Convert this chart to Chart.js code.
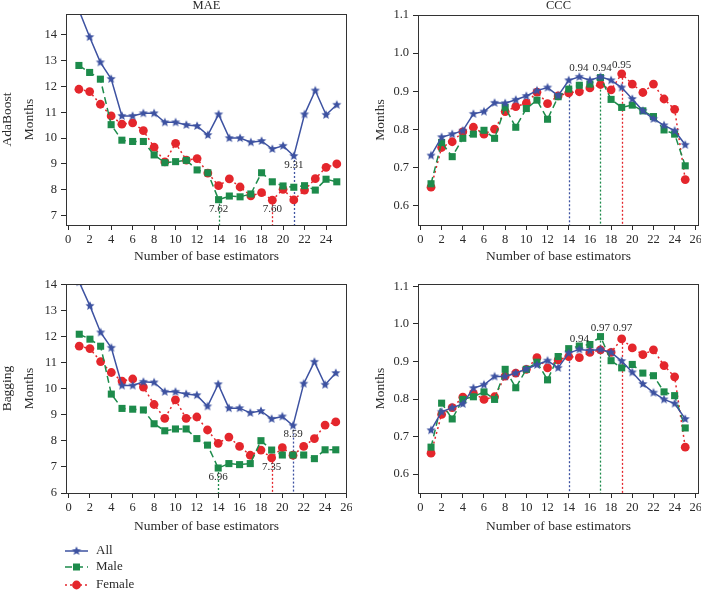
<!DOCTYPE html>
<html>
<head>
<meta charset="utf-8">
<script src="https://cdn.jsdelivr.net/npm/chart.js@4.4.1/dist/chart.umd.min.js"></script>
<style>
html, body { margin: 0; padding: 0; background: #fff; overflow: hidden; }
.panel { position: absolute; }
</style>
</head>
<body>
<div class="panel" style="left:0;top:0;width:352px;height:270px"><canvas id="adaMae"></canvas></div>
<div class="panel" style="left:352px;top:0;width:352px;height:270px"><canvas id="adaCcc"></canvas></div>
<div class="panel" style="left:0;top:270px;width:352px;height:330px"><canvas id="bagMae"></canvas></div>
<div class="panel" style="left:352px;top:270px;width:352px;height:270px"><canvas id="bagCcc"></canvas></div>
<script>
const estimators = [1, 2, 3, 4, 5, 6, 7, 8, 9, 10, 11, 12, 13, 14, 15, 16, 17, 18, 19, 20, 21, 22, 23, 24, 25];
const seriesNames = ['All', 'Male', 'Female'];

// AdaBoost
const adaMaeAll = [14.95, 13.91, 12.93, 12.29, 10.86, 10.86, 10.96, 10.96, 10.61, 10.61, 10.51, 10.47, 10.12, 10.92, 10.00, 10.00, 9.84, 9.89, 9.58, 9.70, 9.31, 10.92, 11.84, 10.90, 11.29];
const adaMaeMale = [12.81, 12.54, 12.28, 10.52, 9.92, 9.87, 9.87, 9.35, 9.05, 9.09, 9.14, 8.77, 8.66, 7.62, 7.76, 7.73, 7.84, 8.66, 8.31, 8.15, 8.10, 8.16, 7.99, 8.41, 8.31];
const adaMaeFemale = [11.89, 11.80, 11.31, 10.86, 10.54, 10.59, 10.29, 9.65, 9.08, 9.80, 9.15, 9.21, 8.65, 8.16, 8.42, 8.11, 7.77, 7.89, 7.60, 8.02, 7.61, 7.99, 8.43, 8.87, 9.00];
const adaCccAll = [0.732, 0.780, 0.788, 0.797, 0.841, 0.847, 0.870, 0.869, 0.878, 0.888, 0.902, 0.910, 0.889, 0.929, 0.938, 0.929, 0.938, 0.929, 0.910, 0.880, 0.849, 0.828, 0.811, 0.797, 0.760];
const adaCccMale = [0.658, 0.766, 0.729, 0.777, 0.788, 0.798, 0.777, 0.858, 0.806, 0.855, 0.877, 0.827, 0.886, 0.906, 0.916, 0.919, 0.936, 0.879, 0.858, 0.864, 0.849, 0.834, 0.799, 0.788, 0.705];
const adaCccFemale = [0.649, 0.753, 0.768, 0.794, 0.806, 0.788, 0.801, 0.847, 0.860, 0.869, 0.898, 0.868, 0.888, 0.896, 0.899, 0.909, 0.918, 0.904, 0.946, 0.919, 0.897, 0.919, 0.880, 0.853, 0.669];

// Bagging
const bagMaeAll = [14.10, 13.19, 12.17, 11.58, 10.13, 10.13, 10.27, 10.25, 9.89, 9.89, 9.80, 9.76, 9.33, 10.18, 9.26, 9.26, 9.08, 9.15, 8.85, 8.94, 8.59, 10.20, 11.04, 10.16, 10.61];
const bagMaeMale = [12.10, 11.91, 11.64, 9.80, 9.25, 9.22, 9.19, 8.66, 8.39, 8.46, 8.46, 8.09, 7.84, 6.96, 7.13, 7.09, 7.13, 8.01, 7.65, 7.46, 7.46, 7.46, 7.32, 7.66, 7.66];
const bagMaeFemale = [11.64, 11.55, 11.05, 10.63, 10.30, 10.38, 10.07, 9.40, 8.87, 9.58, 8.87, 8.92, 8.42, 7.91, 8.15, 7.79, 7.45, 7.65, 7.35, 7.74, 7.45, 7.79, 8.09, 8.61, 8.73];
const bagCccAll = [0.717, 0.766, 0.777, 0.787, 0.829, 0.838, 0.860, 0.860, 0.869, 0.880, 0.891, 0.902, 0.883, 0.922, 0.932, 0.929, 0.932, 0.924, 0.901, 0.871, 0.840, 0.817, 0.799, 0.788, 0.747];
const bagCccMale = [0.672, 0.789, 0.747, 0.799, 0.806, 0.819, 0.799, 0.879, 0.830, 0.879, 0.898, 0.851, 0.913, 0.934, 0.941, 0.945, 0.966, 0.902, 0.883, 0.892, 0.869, 0.862, 0.819, 0.809, 0.723];
const bagCccFemale = [0.656, 0.759, 0.777, 0.805, 0.815, 0.799, 0.806, 0.861, 0.869, 0.879, 0.910, 0.883, 0.904, 0.913, 0.910, 0.924, 0.931, 0.924, 0.960, 0.936, 0.918, 0.931, 0.889, 0.859, 0.672];

// best values marked with dotted drop lines (All, Male, Female)
const adaMaeBestX = [21, 14, 19];
const adaMaeBest = [9.31, 7.62, 7.60];
const adaCccBestX = [14, 17, 19];
const adaCccBest = [0.94, 0.94, 0.95];
const bagMaeBestX = [21, 14, 19];
const bagMaeBest = [8.59, 6.96, 7.35];
const bagCccBestX = [14, 17, 19];
const bagCccBest = [0.94, 0.97, 0.97];

const maeTicks = [6, 7, 8, 9, 10, 11, 12, 13, 14];
const cccTicks = [0.6, 0.7, 0.8, 0.9, 1.0, 1.1];

const ink = '#2a2a2a';
const colors = ['#3d52a1', '#1d8b4b', '#e4262c'];
const dashes = [[], [7, 4], [2, 3]];
const serif = "'Liberation Serif', 'Times New Roman', serif";
Chart.defaults.font.family = serif;
Chart.defaults.color = ink;

function makeStar(color, r) {
    var c = document.createElement('canvas');
    var s = Math.ceil(r * 2) + 2;
    c.width = s; c.height = s;
    var g = c.getContext('2d');
    g.fillStyle = color;
    g.beginPath();
    for (var i = 0; i < 10; i++) {
        var rad = i % 2 === 0 ? r : r * 0.45;
        var a = -Math.PI / 2 + i * Math.PI / 5;
        var px = s / 2 + rad * Math.cos(a), py = s / 2 + rad * Math.sin(a);
        if (i === 0) g.moveTo(px, py); else g.lineTo(px, py);
    }
    g.closePath();
    g.fill();
    return c;
}
const starImg = makeStar(colors[0], 4.8);
const pointStyles = [starImg, 'rect', 'circle'];
const pointRadii = [4.5, 5, 4.4];

function drawMarker(ctx, i, x, y) {
    ctx.fillStyle = colors[i];
    if (i === 0) ctx.drawImage(starImg, x - starImg.width / 2, y - starImg.height / 2);
    else if (i === 1) ctx.fillRect(x - 3.5, y - 3.5, 7, 7);
    else { ctx.beginPath(); ctx.arc(x, y, 4.4, 0, Math.PI * 2); ctx.fill(); }
}

function decor(cfg) {
    return {
        id: 'decor',
        beforeDatasetsDraw(chart) {
            var ctx = chart.ctx, a = chart.chartArea, x = chart.scales.x, y = chart.scales.y;
            ctx.save();
            ctx.lineWidth = 1.3;
            ctx.setLineDash([2, 2]);
            cfg.bestX.forEach(function (bx, i) {
                var top = y.getPixelForValue(chart.data.datasets[i].data[bx - 1].y);
                var px = Math.round(x.getPixelForValue(bx)) + 0.5;
                ctx.strokeStyle = colors[i];
                ctx.beginPath();
                ctx.moveTo(px, top);
                ctx.lineTo(px, a.bottom);
                ctx.stroke();
            });
            ctx.restore();
        },
        afterDatasetsDraw(chart) {
            var ctx = chart.ctx, x = chart.scales.x, y = chart.scales.y;
            ctx.save();
            ctx.font = '11px ' + serif;
            ctx.fillStyle = ink;
            ctx.textAlign = 'center';
            ctx.textBaseline = 'middle';
            cfg.bestX.forEach(function (bx, i) {
                var v = cfg.best[i];
                var lx = x.getPixelForValue(bx + (cfg.labelShift ? cfg.labelShift[i] : 0));
                var ly = y.getPixelForValue(v) + (cfg.below ? 9 : -7.5);
                ctx.fillText(v.toFixed(2), lx, ly);
            });
            ctx.restore();
        },
        afterDraw(chart) {
            var ctx = chart.ctx, a = chart.chartArea;
            ctx.save();
            ctx.strokeStyle = '#333';
            ctx.lineWidth = 1;
            ctx.strokeRect(Math.round(a.left) + 0.5, Math.round(a.top) + 0.5, Math.round(a.right - a.left) - 1, Math.round(a.bottom - a.top));
            ctx.fillStyle = ink;
            if (cfg.title) {
                ctx.font = '12.5px ' + serif;
                ctx.textAlign = 'center';
                ctx.textBaseline = 'middle';
                ctx.fillText(cfg.title, (a.left + a.right) / 2, 6);
            }
            if (cfg.legend) {
                ctx.font = '13px ' + serif;
                ctx.textAlign = 'left';
                ctx.textBaseline = 'middle';
                var rows = [281, 297, 315];
                seriesNames.forEach(function (name, i) {
                    var ry = rows[i];
                    ctx.strokeStyle = colors[i];
                    ctx.lineWidth = 1.5;
                    ctx.setLineDash(dashes[i]);
                    ctx.beginPath();
                    ctx.moveTo(65, ry);
                    ctx.lineTo(88, ry);
                    ctx.stroke();
                    ctx.setLineDash([]);
                    drawMarker(ctx, i, 76.5, ry);
                    ctx.fillStyle = ink;
                    ctx.fillText(name, 96, ry);
                });
            }
            ctx.restore();
        }
    };
}

function series(i, values) {
    return {
        label: seriesNames[i],
        data: estimators.map(function (e, k) { return { x: e, y: values[k] }; }),
        borderColor: colors[i],
        backgroundColor: colors[i],
        borderWidth: 1.5,
        borderDash: dashes[i],
        pointStyle: pointStyles[i],
        pointRadius: pointRadii[i],
        pointBorderWidth: 0,
        pointBackgroundColor: colors[i],
        tension: 0,
        clip: 0
    };
}

function panel(id, cfg) {
    var tickVals = cfg.ticks;
    return new Chart(document.getElementById(id), {
        type: 'line',
        data: {
            datasets: [series(0, cfg.all), series(1, cfg.male), series(2, cfg.female)]
        },
        options: {
            responsive: true,
            maintainAspectRatio: false,
            animation: false,
            layout: { padding: cfg.pad },
            plugins: { legend: { display: false }, tooltip: { enabled: false } },
            scales: {
                x: {
                    type: 'linear',
                    min: cfg.xMin,
                    max: cfg.xMax,
                    ticks: { stepSize: 2, includeBounds: false, autoSkip: false, maxRotation: 0, padding: 2, color: ink, font: { size: 12.5 } },
                    grid: { drawOnChartArea: false, tickLength: 5, color: ink },
                    border: { display: false },
                    title: { display: true, text: 'Number of base estimators', color: ink, font: { size: 13.5 }, padding: { top: 0, bottom: cfg.xTitlePad } },
                    afterFit: function (s) { s.height = 45; s.paddingLeft = 0; s.paddingRight = 0; }
                },
                y: {
                    min: cfg.yMin,
                    max: cfg.yMax,
                    afterBuildTicks: function (s) {
                        s.ticks = tickVals.filter(function (v) { return v >= s.min - 1e-9 && v <= s.max + 1e-9; }).map(function (v) { return { value: v }; });
                    },
                    ticks: {
                        padding: 4,
                        color: ink,
                        font: { size: 12.5 },
                        callback: function (v) { return cfg.decimals ? Number(v).toFixed(1) : String(v); }
                    },
                    grid: { drawOnChartArea: false, tickLength: 5, color: ink },
                    border: { display: false },
                    title: { display: true, text: cfg.yTitle, color: ink, font: { size: 13.5, lineHeight: 1.63 }, padding: { top: cfg.yTitlePad, bottom: 0 } },
                    afterFit: function (s) { s.width = 66; s.paddingTop = 0; s.paddingBottom = 0; }
                }
            }
        },
        plugins: [decor(cfg)]
    });
}

panel('adaMae', {
    all: adaMaeAll, male: adaMaeMale, female: adaMaeFemale,
    bestX: adaMaeBestX, best: adaMaeBest, below: true,
    ticks: maeTicks, yMin: 6.64, yMax: 14.8, xMin: -0.2, xMax: 25.95,
    pad: { top: 14, right: 3, bottom: 0, left: 0 }, xTitlePad: 5,
    yTitle: ['AdaBoost', 'Months'], yTitlePad: -3.5, title: 'MAE'
});
panel('adaCcc', {
    all: adaCccAll, male: adaCccMale, female: adaCccFemale,
    bestX: adaCccBestX, best: adaCccBest, below: false, labelShift: [0.95, 0.15, 0],
    ticks: cccTicks, decimals: true, yMin: 0.55, yMax: 1.1, xMin: -0.23, xMax: 26.3,
    pad: { top: 15, right: 4, bottom: 0, left: 0 }, xTitlePad: 5,
    yTitle: 'Months', yTitlePad: 17.5, title: 'CCC'
});
panel('bagMae', {
    all: bagMaeAll, male: bagMaeMale, female: bagMaeFemale,
    bestX: bagMaeBestX, best: bagMaeBest, below: true,
    ticks: maeTicks, yMin: 6, yMax: 14.03, xMin: -0.24, xMax: 26.05,
    pad: { top: 14, right: 3, bottom: 62, left: 0 }, xTitlePad: 3,
    yTitle: ['Bagging', 'Months'], yTitlePad: -3.5, legend: true
});
panel('bagCcc', {
    all: bagCccAll, male: bagCccMale, female: bagCccFemale,
    bestX: bagCccBestX, best: bagCccBest, below: false, labelShift: [1, 0, 0.1],
    ticks: cccTicks, decimals: true, yMin: 0.55, yMax: 1.106, xMin: -0.23, xMax: 26.3,
    pad: { top: 14, right: 4, bottom: 2, left: 0 }, xTitlePad: 3,
    yTitle: 'Months', yTitlePad: 17.5
});
</script>
</body>
</html>
